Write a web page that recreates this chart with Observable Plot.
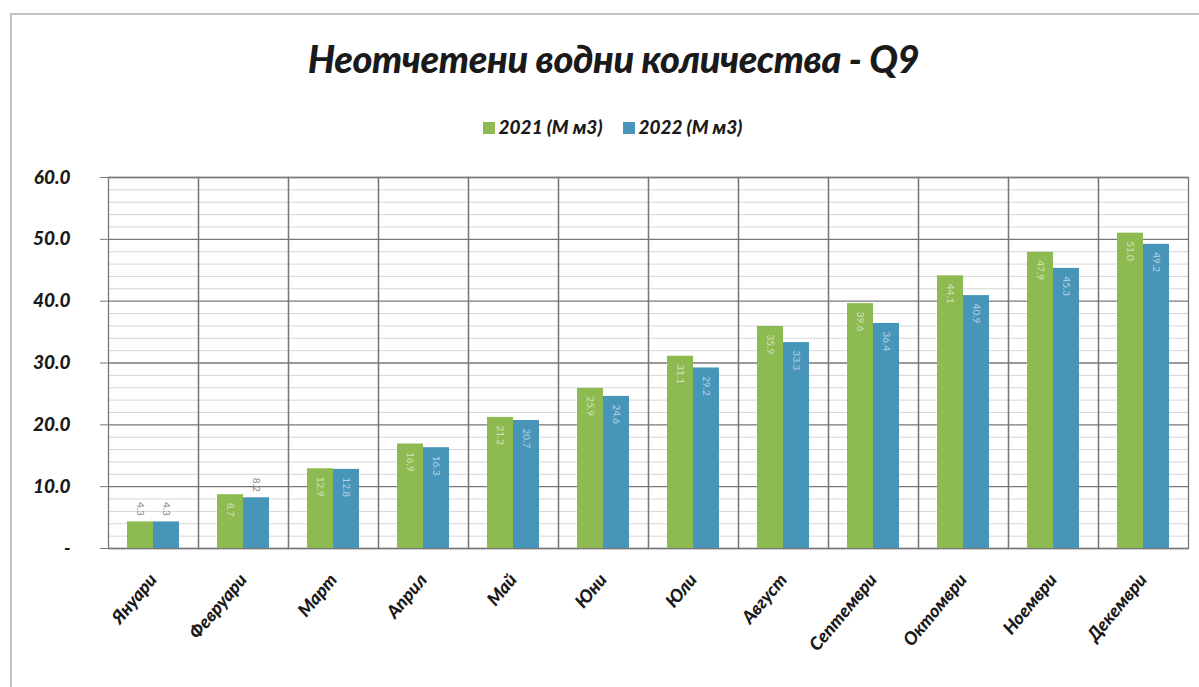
<!DOCTYPE html>
<html><head><meta charset="utf-8">
<script src="https://cdn.jsdelivr.net/npm/d3@7"></script>
<script src="https://cdn.jsdelivr.net/npm/@observablehq/plot@0.6"></script>
<style>
body{margin:0;background:#fff;font-family:Lato,"Open Sans",sans-serif;}
#wrap{position:relative;width:1199px;height:687px;overflow:hidden;background:#fff}
#border{position:absolute;left:10px;top:13px;right:-5px;bottom:-5px;border-top:2px solid #c4c4c4;border-left:2px solid #c4c4c4}
#title{position:absolute;left:14px;width:1199px;top:35px;text-align:center;font-weight:900;font-style:italic;font-size:38px;color:#1a1a1a;letter-spacing:-0.4px}
#legend{position:absolute;left:13px;width:1199px;top:115px;text-align:center;font-weight:900;font-style:italic;font-size:19px;color:#1a1a1a}
#legend span.item{display:inline-block;margin:0 10px}
#legend span.sw{display:inline-block;width:12px;height:12px;margin-right:4px;vertical-align:0px}
#chart{position:absolute;left:0;top:0}
</style></head>
<body>
<div id="wrap">
  <div id="border"></div>
  <div id="title">Неотчетени водни количества - Q9</div>
  <div id="legend"></div>
  <div id="chart"></div>
</div>
<script>
const months = ["Януари","Февруари","Март","Април","Май","Юни","Юли","Август","Септември","Октомври","Ноември","Декември"];
const series = ["2021 (М м3)", "2022 (М м3)"];
const values2021 = [4.3, 8.7, 12.9, 16.9, 21.2, 25.9, 31.1, 35.9, 39.6, 44.1, 47.9, 51.0];
const values2022 = [4.3, 8.2, 12.8, 16.3, 20.7, 24.6, 29.2, 33.3, 36.4, 40.9, 45.3, 49.2];
const colors = ["#8dbb52", "#4795b8"];
const yTicks = [0, 10, 20, 30, 40, 50, 60];
const yMinorTicks = [2,4,6,8,12,14,16,18,22,24,26,28,32,34,36,38,42,44,46,48,52,54,56,58];

const data = months.flatMap((m, i) => [
  {month: m, year: series[0], value: values2021[i]},
  {month: m, year: series[1], value: values2022[i]}
]);

const legend = document.getElementById("legend");
series.forEach((s, i) => {
  const it = document.createElement("span");
  it.className = "item";
  it.innerHTML = `<span class="sw" style="background:${colors[i]}"></span>${s}`;
  legend.appendChild(it);
});

const fmt = d => d === 0 ? "-" : d.toFixed(1);
const inside = data.filter(d => d.value >= 8.5);
const outside = data.filter(d => d.value < 8.5);

const chart = Plot.plot({
  width: 1199, height: 687,
  marginTop: 177, marginBottom: 139, marginLeft: 108, marginRight: 11,
  style: {fontFamily: 'Lato, "Open Sans", sans-serif', background: "transparent"},
  fx: {domain: months, paddingInner: 0, paddingOuter: 0, label: null},
  x: {domain: series, paddingInner: 0, paddingOuter: 0.73, axis: null},
  y: {domain: [0, 60], label: null, axis: null},
  color: {domain: series, range: colors},
  marks: [
    Plot.gridY(yMinorTicks, {stroke: "#bbb", strokeOpacity: 0.6}),
    Plot.gridY(yTicks, {stroke: "#777", strokeOpacity: 1, strokeWidth: 1.3}),
    Plot.frame({stroke: "#777", strokeWidth: 1.3}),
    Plot.barY(data, {fx: "month", x: "year", y: "value", fill: "year"}),
    Plot.text(inside, {fx: "month", x: "year", y: "value", text: d => d.value.toFixed(1),
      rotate: 90, textAnchor: "start", dy: 8, fill: "white", fillOpacity: 0.6, fontSize: 10}),
    Plot.text(outside, {fx: "month", x: "year", y: "value", text: d => d.value.toFixed(1),
      rotate: 90, textAnchor: "end", dy: -6, fill: "#888", fontSize: 10}),
    Plot.axisY(yTicks, {anchor: "left", tickFormat: fmt, tickSize: 8, tickPadding: 30,
      fontSize: 19, fontWeight: 900, fontStyle: "italic", fill: "#1a1a1a", stroke: "#777", label: null}),
    Plot.axisFx({anchor: "bottom", tickRotate: -50, tickSize: 0, tickPadding: 28,
      fontSize: 18, fontWeight: 900, fontStyle: "italic", fill: "#1a1a1a", label: null})
  ]
});
document.getElementById("chart").appendChild(chart);
</script>
</body></html>
